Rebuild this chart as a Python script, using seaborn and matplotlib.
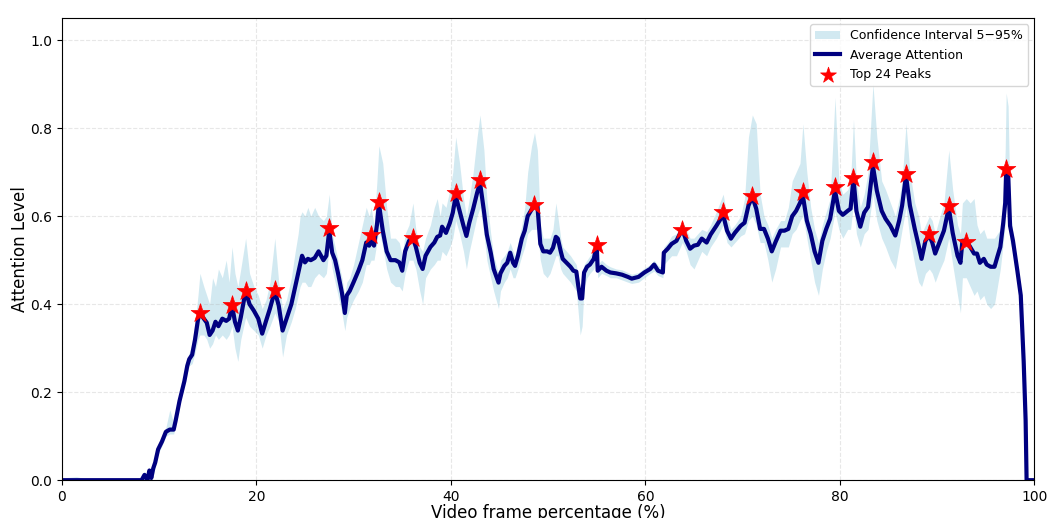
import numpy as np
import pandas as pd
import seaborn as sns
import matplotlib.pyplot as plt

# Average attention along the video
frame_pct = [0.0, 0.5, 1.5, 2.5, 3.5, 8.2, 8.5, 8.8, 9.0, 9.2, 9.4, 9.6, 9.9, 10.3, 10.7, 11.1, 11.5, 11.7,
             12.1, 12.6, 12.9, 13.1, 13.4, 13.7, 14.0, 14.2, 14.6, 14.9, 15.2, 15.5, 15.8, 16.1, 16.5, 16.9,
             17.2, 17.5, 17.8, 18.1, 18.4, 18.9, 19.3, 19.75, 20.2, 20.6, 21.0, 21.4, 21.9, 22.3, 22.7, 23.1,
             23.6, 24.0, 24.3, 24.5, 24.7, 25.0, 25.3, 25.6, 26.0, 26.4, 26.9, 27.2, 27.5, 27.8, 28.1, 28.4,
             28.8, 29.1, 29.3, 29.6, 30.0, 30.5, 30.9, 31.3, 31.6, 31.8, 32.1, 32.4, 32.6, 33.0, 33.4, 33.8,
             34.3, 34.7, 35.0, 35.3, 35.7, 36.1, 36.4, 36.8, 37.1, 37.4, 37.9, 38.3, 38.6, 38.9, 39.1, 39.5,
             39.9, 40.2, 40.5, 40.9, 41.3, 41.6, 41.9, 42.3, 42.7, 43.0, 43.4, 43.7, 44.1, 44.4, 44.9, 45.1,
             45.5, 45.8, 46.1, 46.4, 46.6, 46.9, 47.3, 47.6, 47.9, 48.3, 48.6, 48.9, 49.2, 49.5, 49.9, 50.2,
             50.5, 50.8, 51.0, 51.3, 51.5, 51.9, 52.3, 52.6, 52.9, 53.1, 53.3, 53.5, 53.7, 54.0, 54.3, 54.7,
             55.0, 55.1, 55.5, 56.0, 56.4, 57.0, 57.6, 58.2, 58.6, 59.3, 59.9, 60.5, 60.9, 61.3, 61.8, 61.9,
             62.3, 62.7, 63.2, 63.8, 64.2, 64.6, 65.0, 65.4, 65.8, 66.3, 66.7, 67.3, 68.0, 68.4, 68.8, 69.2,
             69.8, 70.2, 70.6, 71.0, 71.4, 71.8, 72.2, 72.6, 73.0, 73.4, 73.9, 74.3, 74.7, 75.1, 75.5, 75.9,
             76.2, 76.6, 77.0, 77.4, 77.8, 78.2, 78.6, 79.0, 79.5, 79.9, 80.3, 80.8, 81.1, 81.4, 81.7, 82.1,
             82.5, 82.9, 83.4, 83.8, 84.3, 84.7, 85.2, 85.7, 86.1, 86.4, 86.8, 87.2, 87.7, 88.1, 88.4, 88.8,
             89.2, 89.5, 89.8, 90.3, 90.7, 91.2, 91.6, 92.1, 92.4, 92.6, 93.0, 93.4, 93.8, 94.1, 94.4, 94.8,
             95.1, 95.5, 95.9, 96.2, 96.5, 96.8, 97.0, 97.1, 97.3, 97.5, 97.8, 98.25, 98.6, 98.9, 99.1, 99.2,
             100.0]

attn_mean = [0, 0, 0, 0, 0, 0, 0.012, 0.0, 0.022, 0.005, 0.027, 0.04, 0.07, 0.088, 0.11, 0.115, 0.115, 0.135,
             0.18, 0.225, 0.26, 0.275, 0.285, 0.32, 0.365, 0.38, 0.367, 0.358, 0.33, 0.34, 0.36, 0.35, 0.367, 0.362,
             0.367, 0.397, 0.36, 0.34, 0.37, 0.43, 0.40, 0.385, 0.367, 0.333, 0.362, 0.39, 0.43, 0.397, 0.34, 0.367,
             0.40, 0.44, 0.47, 0.49, 0.51, 0.495, 0.503, 0.50, 0.505, 0.52, 0.50, 0.51, 0.567, 0.517, 0.50, 0.47,
             0.426, 0.38, 0.42, 0.43, 0.45, 0.476, 0.50, 0.54, 0.533, 0.545, 0.533, 0.58, 0.628, 0.567, 0.52, 0.50,
             0.50, 0.495, 0.476, 0.52, 0.544, 0.55, 0.53, 0.494, 0.48, 0.51, 0.53, 0.54, 0.553, 0.556, 0.576, 0.562,
             0.585, 0.608, 0.646, 0.612, 0.578, 0.555, 0.585, 0.617, 0.653, 0.676, 0.612, 0.558, 0.517, 0.48, 0.449, 0.47,
             0.487, 0.494, 0.517, 0.494, 0.487, 0.51, 0.549, 0.567, 0.60, 0.615, 0.624, 0.624, 0.537, 0.52, 0.52, 0.517,
             0.528, 0.553, 0.549, 0.52, 0.503, 0.494, 0.485, 0.476, 0.474, 0.442, 0.413, 0.413, 0.472, 0.485, 0.49, 0.503,
             0.535, 0.476, 0.485, 0.476, 0.472, 0.47, 0.467, 0.462, 0.458, 0.462, 0.472, 0.48, 0.49, 0.476, 0.472, 0.517,
             0.526, 0.537, 0.544, 0.571, 0.544, 0.526, 0.533, 0.535, 0.549, 0.54, 0.558, 0.578, 0.603, 0.567, 0.549, 0.562,
             0.578, 0.585, 0.624, 0.644, 0.617, 0.571, 0.571, 0.549, 0.52, 0.542, 0.567, 0.567, 0.571, 0.60, 0.612, 0.63,
             0.646, 0.59, 0.56, 0.52, 0.494, 0.544, 0.571, 0.594, 0.658, 0.612, 0.603, 0.612, 0.617, 0.685, 0.612, 0.576,
             0.608, 0.621, 0.714, 0.658, 0.612, 0.594, 0.578, 0.556, 0.59, 0.624, 0.692, 0.624, 0.571, 0.533, 0.503, 0.544,
             0.556, 0.54, 0.515, 0.544, 0.567, 0.619, 0.562, 0.51, 0.494, 0.544, 0.544, 0.53, 0.515, 0.515, 0.494, 0.503,
             0.49, 0.485, 0.485, 0.508, 0.53, 0.585, 0.63, 0.703, 0.70, 0.578, 0.544, 0.476, 0.42, 0.27, 0.136, 0.0,
             0.0]

# 5th and 95th percentile bounds
attn_lo = [0, 0, 0, 0, 0, 0, 0.0, 0.0, 0.005, 0.0, 0.01, 0.03, 0.06, 0.078, 0.10, 0.105, 0.105, 0.125,
           0.17, 0.215, 0.245, 0.26, 0.265, 0.29, 0.32, 0.33, 0.33, 0.32, 0.30, 0.31, 0.33, 0.32, 0.33, 0.32,
           0.33, 0.35, 0.30, 0.27, 0.32, 0.37, 0.35, 0.34, 0.33, 0.30, 0.33, 0.35, 0.38, 0.36, 0.28, 0.33,
           0.36, 0.39, 0.42, 0.44, 0.45, 0.45, 0.44, 0.44, 0.46, 0.47, 0.46, 0.47, 0.53, 0.48, 0.45, 0.42,
           0.38, 0.34, 0.37, 0.39, 0.41, 0.43, 0.45, 0.49, 0.49, 0.50, 0.50, 0.54, 0.57, 0.53, 0.48, 0.45,
           0.44, 0.44, 0.43, 0.47, 0.50, 0.50, 0.48, 0.43, 0.40, 0.46, 0.48, 0.49, 0.50, 0.50, 0.52, 0.51,
           0.53, 0.55, 0.59, 0.56, 0.52, 0.48, 0.52, 0.56, 0.60, 0.62, 0.56, 0.50, 0.46, 0.43, 0.39, 0.43,
           0.45, 0.46, 0.48, 0.46, 0.46, 0.48, 0.51, 0.53, 0.56, 0.57, 0.57, 0.57, 0.50, 0.47, 0.46, 0.47,
           0.49, 0.51, 0.51, 0.48, 0.47, 0.46, 0.45, 0.44, 0.43, 0.38, 0.33, 0.35, 0.44, 0.46, 0.47, 0.48,
           0.50, 0.46, 0.47, 0.465, 0.46, 0.46, 0.455, 0.45, 0.447, 0.45, 0.46, 0.47, 0.475, 0.465, 0.46, 0.49,
           0.50, 0.51, 0.51, 0.54, 0.52, 0.49, 0.48, 0.50, 0.52, 0.51, 0.53, 0.55, 0.58, 0.54, 0.53, 0.54,
           0.555, 0.56, 0.59, 0.60, 0.58, 0.54, 0.54, 0.50, 0.45, 0.48, 0.53, 0.53, 0.53, 0.56, 0.57, 0.59,
           0.60, 0.55, 0.50, 0.45, 0.42, 0.48, 0.52, 0.55, 0.61, 0.57, 0.55, 0.57, 0.57, 0.63, 0.56, 0.53,
           0.56, 0.57, 0.65, 0.59, 0.55, 0.53, 0.50, 0.48, 0.53, 0.57, 0.62, 0.55, 0.49, 0.45, 0.44, 0.47,
           0.48, 0.47, 0.45, 0.48, 0.50, 0.55, 0.49, 0.42, 0.38, 0.46, 0.46, 0.44, 0.42, 0.43, 0.41, 0.42,
           0.40, 0.39, 0.40, 0.44, 0.48, 0.54, 0.58, 0.65, 0.64, 0.54, 0.52, 0.46, 0.41, 0.26, 0.13, 0.0,
           0.0]

attn_hi = [0, 0.006, 0.008, 0.003, 0, 0, 0.02, 0.01, 0.03, 0.015, 0.035, 0.05, 0.08, 0.10, 0.12, 0.16, 0.13, 0.15,
           0.19, 0.235, 0.275, 0.29, 0.31, 0.36, 0.42, 0.47, 0.44, 0.42, 0.40, 0.46, 0.44, 0.48, 0.46, 0.50,
           0.45, 0.53, 0.47, 0.44, 0.48, 0.55, 0.47, 0.44, 0.42, 0.39, 0.41, 0.45, 0.55, 0.45, 0.39, 0.41,
           0.46, 0.52, 0.56, 0.60, 0.61, 0.60, 0.62, 0.60, 0.62, 0.60, 0.59, 0.60, 0.65, 0.56, 0.53, 0.50,
           0.46, 0.42, 0.45, 0.46, 0.49, 0.54, 0.58, 0.62, 0.60, 0.62, 0.58, 0.68, 0.76, 0.72, 0.62, 0.55,
           0.55, 0.54, 0.51, 0.56, 0.58, 0.63, 0.57, 0.53, 0.52, 0.55, 0.58, 0.62, 0.64, 0.60, 0.63, 0.62,
           0.66, 0.70, 0.78, 0.72, 0.64, 0.60, 0.64, 0.70, 0.78, 0.83, 0.75, 0.64, 0.56, 0.51, 0.47, 0.50,
           0.51, 0.52, 0.54, 0.52, 0.51, 0.54, 0.58, 0.62, 0.70, 0.76, 0.79, 0.75, 0.58, 0.55, 0.55, 0.55,
           0.57, 0.63, 0.60, 0.55, 0.53, 0.52, 0.51, 0.50, 0.49, 0.46, 0.43, 0.43, 0.49, 0.50, 0.51, 0.52,
           0.55, 0.49, 0.50, 0.49, 0.485, 0.48, 0.478, 0.472, 0.468, 0.472, 0.482, 0.49, 0.50, 0.488, 0.482, 0.53,
           0.54, 0.555, 0.56, 0.59, 0.57, 0.55, 0.55, 0.56, 0.57, 0.565, 0.58, 0.61, 0.65, 0.60, 0.57, 0.58,
           0.60, 0.64, 0.78, 0.83, 0.81, 0.65, 0.60, 0.58, 0.55, 0.57, 0.59, 0.59, 0.62, 0.68, 0.70, 0.72,
           0.81, 0.70, 0.62, 0.57, 0.54, 0.58, 0.61, 0.64, 0.87, 0.68, 0.65, 0.66, 0.68, 0.82, 0.68, 0.62,
           0.65, 0.70, 0.90, 0.78, 0.68, 0.66, 0.63, 0.60, 0.64, 0.68, 0.81, 0.70, 0.63, 0.60, 0.56, 0.58,
           0.60, 0.59, 0.56, 0.60, 0.63, 0.75, 0.66, 0.58, 0.56, 0.63, 0.64, 0.63, 0.64, 0.58, 0.56, 0.57,
           0.55, 0.55, 0.55, 0.56, 0.57, 0.62, 0.75, 0.88, 0.85, 0.62, 0.56, 0.49, 0.43, 0.28, 0.14, 0.0,
           0.0]

# Top 24 peaks (star markers)
peak_x = [14.2, 17.5, 18.9, 21.9, 27.5, 31.8, 32.6, 36.1, 40.5, 43.0, 48.6, 55.0,
          63.8, 68.0, 71.0, 76.2, 79.5, 81.4, 83.4, 86.8, 89.2, 91.2, 93.0, 97.1]
peak_y = [0.381, 0.397, 0.431, 0.433, 0.574, 0.558, 0.633, 0.551, 0.653, 0.683, 0.626, 0.535,
          0.569, 0.610, 0.646, 0.655, 0.667, 0.687, 0.723, 0.696, 0.560, 0.624, 0.542, 0.707]

df = pd.DataFrame({"frame": frame_pct, "mean": attn_mean, "lo": attn_lo, "hi": attn_hi})
peaks = pd.DataFrame({"frame": peak_x, "attn": peak_y})

fig = plt.figure(figsize=(10.48, 5.18), dpi=100)
ax = fig.add_axes([0.059, 0.073, 0.928, 0.892])

ax.fill_between(df["frame"], df["lo"], df["hi"], color="lightblue", alpha=0.55,
                linewidth=0, label="Confidence Interval 5\u221295%")
sns.lineplot(data=df, x="frame", y="mean", ax=ax, color="navy", linewidth=3,
             label="Average Attention")
sns.scatterplot(data=peaks, x="frame", y="attn", ax=ax, marker="*", s=200, color="red",
                edgecolor="red", linewidth=0.5, zorder=5, label="Top 24 Peaks")

ax.set_xlim(0, 100)
ax.set_ylim(0, 1.05)
ax.set_xticks([0, 20, 40, 60, 80, 100])
ax.set_yticks([0.0, 0.2, 0.4, 0.6, 0.8, 1.0])
ax.tick_params(labelsize=10)
ax.grid(True, linestyle="--", alpha=0.3)
ax.set_xlabel("Video frame percentage (%)", fontsize=12, labelpad=0)
ax.set_ylabel("Attention Level", fontsize=12, labelpad=1)
ax.legend(loc="upper right", fontsize=9, markerscale=0.85)

fig.savefig("out.png", dpi=100)
